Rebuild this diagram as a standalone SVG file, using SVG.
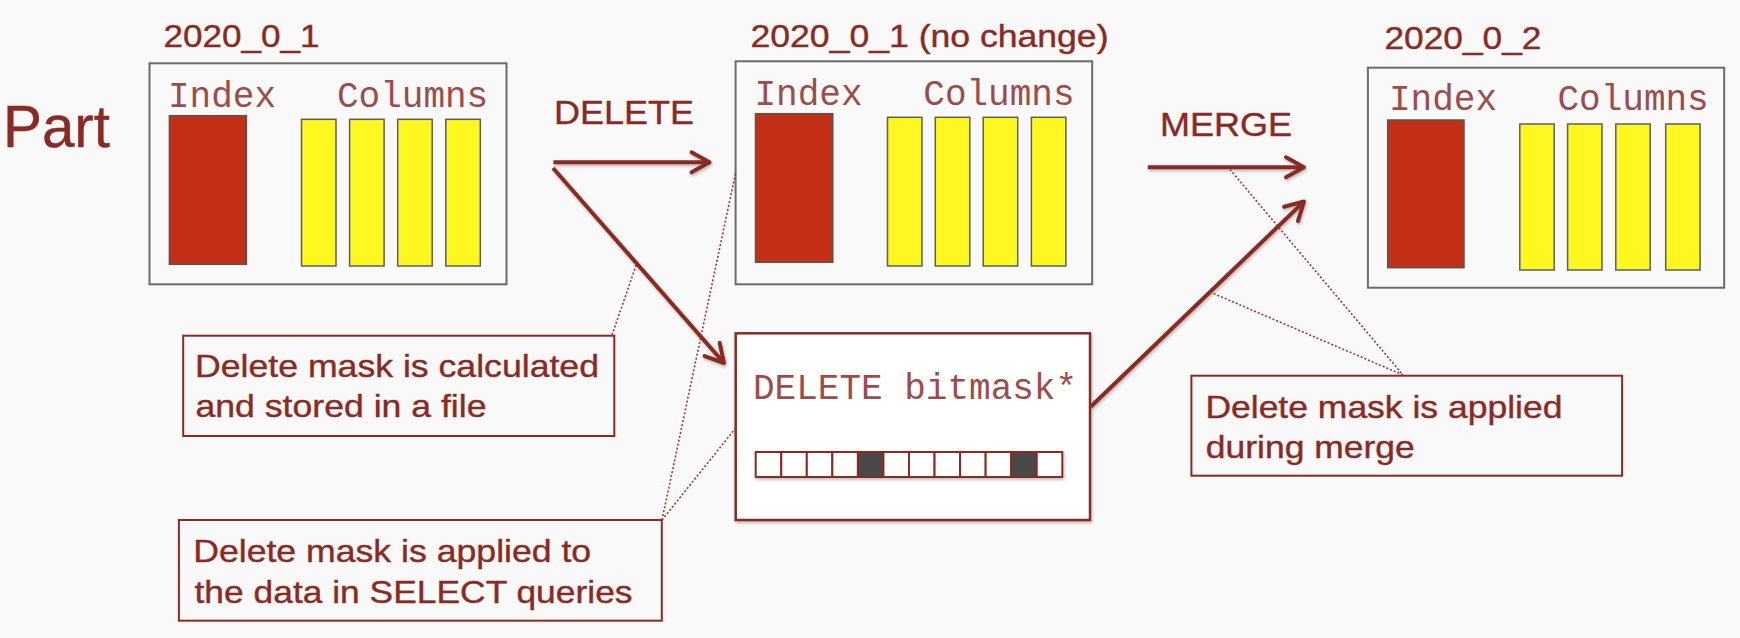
<svg xmlns="http://www.w3.org/2000/svg" width="1740" height="638" viewBox="0 0 1740 638">
<style>
.sans{font-family:"Liberation Sans",Arial,sans-serif;fill:#8a2a24;stroke:#8a2a24;stroke-width:0.4}
.mono{font-family:"Liberation Mono","Courier New",monospace;fill:#9c4c4c;font-size:36px}
.title{font-size:31px}
.note{font-size:32px}
.pbox{fill:#f9f9f9;stroke:#6b6b6b;stroke-width:2}
.idx{fill:#c33016;stroke:#555;stroke-width:1.5}
.col{fill:#fff820;stroke:#5e5e5e;stroke-width:1.5}
.nbox{fill:#f9f9f9;stroke:#8b2a22;stroke-width:2}
.arrow{fill:none;stroke:#8b2a22;stroke-width:4;marker-end:url(#arr)}
.dot{fill:none;stroke:#9a3a30;stroke-width:1.6;stroke-dasharray:2 2}
.bit{fill:#fff;stroke:#8b2a22;stroke-width:2}
.bitd{fill:#4a4a4a;stroke:#8b2a22;stroke-width:2}
</style>
<defs>
<marker id="arr" markerUnits="userSpaceOnUse" markerWidth="30" markerHeight="30" viewBox="0 0 30 30" refX="24" refY="15" orient="auto">
<path d="M6,5 L24,15 L6,25" fill="none" stroke="#8b2a22" stroke-width="4" stroke-linecap="round" stroke-linejoin="round"/>
</marker>
<filter id="sh" x="-10%" y="-10%" width="120%" height="130%">
<feDropShadow dx="1" dy="2" stdDeviation="1.5" flood-color="#000" flood-opacity="0.25"/>
</filter>
</defs>
<rect x="0" y="0" width="1740" height="638" fill="#f9f9f9"/>

<g id="part-label">
<text class="sans" x="3" y="146.7" font-size="59" textLength="107" lengthAdjust="spacingAndGlyphs">Part</text>
</g>

<g id="part-2020_0_1">
<text class="sans title" x="163.5" y="47" textLength="156" lengthAdjust="spacingAndGlyphs">2020_0_1</text>
<rect class="pbox" x="149.5" y="63.3" width="357" height="221"/>
<text class="mono" x="168" y="107.3">Index</text>
<text class="mono" x="337" y="107.3">Columns</text>
<rect class="idx" x="169.4" y="115.7" width="77" height="148.6"/>
<rect class="col" x="301.5" y="119.3" width="34.5" height="146.7"/>
<rect class="col" x="349.6" y="119.3" width="34.5" height="146.7"/>
<rect class="col" x="397.7" y="119.3" width="34.5" height="146.7"/>
<rect class="col" x="445.8" y="119.3" width="34.5" height="146.7"/>
</g>

<g id="part-2020_0_1-nochange">
<text class="sans title" x="750.5" y="47" textLength="358" lengthAdjust="spacingAndGlyphs">2020_0_1 (no change)</text>
<rect class="pbox" x="735.6" y="61.3" width="356.6" height="223"/>
<text class="mono" x="754.5" y="105">Index</text>
<text class="mono" x="923.3" y="105">Columns</text>
<rect class="idx" x="755.5" y="113.7" width="77.3" height="148.6"/>
<rect class="col" x="887.5" y="117.3" width="34.5" height="148.7"/>
<rect class="col" x="935.3" y="117.3" width="34.5" height="148.7"/>
<rect class="col" x="983.2" y="117.3" width="34.5" height="148.7"/>
<rect class="col" x="1031.4" y="117.3" width="34.5" height="148.7"/>
</g>

<g id="part-2020_0_2">
<text class="sans title" x="1384.5" y="49.3" textLength="157" lengthAdjust="spacingAndGlyphs">2020_0_2</text>
<rect class="pbox" x="1367.9" y="67.7" width="356.3" height="220"/>
<text class="mono" x="1389" y="110">Index</text>
<text class="mono" x="1557.5" y="110">Columns</text>
<rect class="idx" x="1387.7" y="120" width="76.3" height="147.7"/>
<rect class="col" x="1519.8" y="124" width="34.4" height="146"/>
<rect class="col" x="1567.6" y="124" width="34.4" height="146"/>
<rect class="col" x="1615.8" y="124" width="34.4" height="146"/>
<rect class="col" x="1665.7" y="124" width="34.4" height="146"/>
</g>

<g id="label-delete">
<text class="sans" x="554" y="124" font-size="34" textLength="140" lengthAdjust="spacingAndGlyphs">DELETE</text>
</g>

<g id="label-merge">
<text class="sans" x="1160" y="136" font-size="33" textLength="132" lengthAdjust="spacingAndGlyphs">MERGE</text>
</g>

<g id="bitmask">
<rect x="735.7" y="333.3" width="354.3" height="186.7" fill="#fff" stroke="#8b2a22" stroke-width="2.5" filter="url(#sh)"/>
<text class="mono" x="753" y="399.3">DELETE bitmask*</text>
<g filter="url(#sh)">
<rect class="bit" x="755.7" y="452" width="25.55" height="25"/>
<rect class="bit" x="781.25" y="452" width="25.55" height="25"/>
<rect class="bit" x="806.8" y="452" width="25.55" height="25"/>
<rect class="bit" x="832.35" y="452" width="25.55" height="25"/>
<rect class="bitd" x="857.9" y="452" width="25.55" height="25"/>
<rect class="bit" x="883.45" y="452" width="25.55" height="25"/>
<rect class="bit" x="909" y="452" width="25.55" height="25"/>
<rect class="bit" x="934.55" y="452" width="25.55" height="25"/>
<rect class="bit" x="960.1" y="452" width="25.55" height="25"/>
<rect class="bit" x="985.65" y="452" width="25.55" height="25"/>
<rect class="bitd" x="1011.2" y="452" width="25.55" height="25"/>
<rect class="bit" x="1036.75" y="452" width="25.55" height="25"/>
</g>
</g>

<g id="note-calculated">
<rect class="nbox" x="183.2" y="335.7" width="431.1" height="100.3"/>
<text class="sans note" x="195" y="376.7" textLength="404" lengthAdjust="spacingAndGlyphs">Delete mask is calculated</text>
<text class="sans note" x="195.5" y="417.3" textLength="291" lengthAdjust="spacingAndGlyphs">and stored in a file</text>
</g>

<g id="note-select">
<rect class="nbox" x="178.9" y="520" width="482.9" height="100.7"/>
<text class="sans note" x="193.2" y="561.7" textLength="398" lengthAdjust="spacingAndGlyphs">Delete mask is applied to</text>
<text class="sans note" x="194.5" y="603.3" textLength="438" lengthAdjust="spacingAndGlyphs">the data in SELECT queries</text>
</g>

<g id="note-merge">
<rect class="nbox" x="1191.4" y="375.7" width="430.7" height="100"/>
<text class="sans note" x="1205.4" y="417.7" textLength="357" lengthAdjust="spacingAndGlyphs">Delete mask is applied</text>
<text class="sans note" x="1205.8" y="458.3" textLength="209" lengthAdjust="spacingAndGlyphs">during merge</text>
</g>

<g id="connectors">
<g filter="url(#sh)">
<line class="arrow" x1="553.4" y1="162.3" x2="709.5" y2="162.3"/>
<line class="arrow" x1="553" y1="168" x2="724" y2="363"/>
<line class="arrow" x1="1147.8" y1="167.3" x2="1304" y2="167.3"/>
<line class="arrow" x1="1090.7" y1="406.7" x2="1304" y2="201.5"/>
</g>
<line class="dot" x1="612" y1="335" x2="636.5" y2="264"/>
<line class="dot" x1="662" y1="520" x2="735.6" y2="173"/>
<line class="dot" x1="662" y1="520" x2="735.7" y2="428"/>
<line class="dot" x1="1230" y1="169.5" x2="1403" y2="375"/>
<line class="dot" x1="1210" y1="292" x2="1403" y2="375"/>
</g>
</svg>
